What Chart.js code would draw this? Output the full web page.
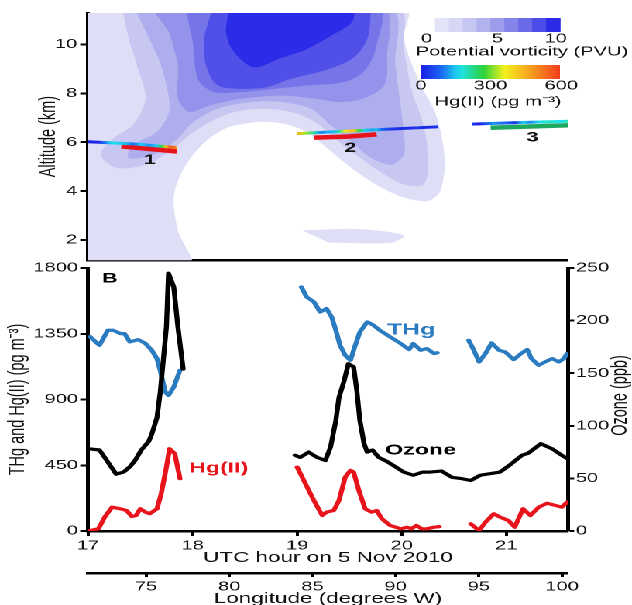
<!DOCTYPE html>
<html>
<head>
<meta charset="utf-8">
<script src="https://cdn.jsdelivr.net/npm/chart.js@4.4.0/dist/chart.umd.min.js"></script>
<style>
  html, body { margin: 0; padding: 0; background: #fff; }
  #clip { position: relative; width: 632px; height: 605px; overflow: hidden; }
  /* the reference figure is stretched horizontally, so draw narrow and stretch */
  #wrap { position: absolute; left: 0; top: 0; width: 408px; height: 605px; transform: scaleX(1.549); transform-origin: 0 0; }
  #topBox { position: absolute; left: 0; top: 0; width: 408px; height: 270px; }
  #botBox { position: absolute; left: 0; top: 255px; width: 408px; height: 360px; }
</style>
</head>
<body>
<div id="clip"><div id="wrap">
  <div id="topBox"><canvas id="pvChart"></canvas></div>
  <div id="botBox"><canvas id="tsChart"></canvas></div>
</div></div>
<script>
// ---- axis ticks ----
const hourTicks = [17, 18, 19, 20, 21];
const lonTicks = [75, 80, 85, 90, 95, 100];
const mercuryTicks = [0, 450, 900, 1350, 1800];
const ozoneTicks = [0, 50, 100, 150, 200, 250];
const altTicks = [2, 4, 6, 8, 10];

// ---- panel B series: [UTC hour, value] ----
const thg1 = [[17.02,1330],[17.11,1271],[17.19,1374],[17.24,1374],[17.31,1351],[17.35,1351],[17.40,1294],[17.48,1310],[17.55,1283],[17.61,1237],[17.66,1180],[17.69,1100],[17.74,951],[17.77,928],[17.82,985],[17.88,1100]];
const thg2 = [[19.04,1670],[19.09,1602],[19.16,1568],[19.22,1499],[19.28,1522],[19.33,1465],[19.37,1374],[19.41,1271],[19.46,1202],[19.51,1168],[19.55,1259],[19.60,1362],[19.67,1431],[19.73,1408],[19.79,1374],[19.89,1328],[19.99,1283],[20.07,1242],[20.11,1283],[20.18,1237],[20.24,1248],[20.31,1214],[20.34,1220]];
const thg3 = [[20.64,1305],[20.69,1237],[20.74,1157],[20.80,1214],[20.86,1287],[20.93,1237],[20.99,1225],[21.07,1173],[21.14,1214],[21.20,1242],[21.24,1180],[21.31,1134],[21.37,1157],[21.44,1180],[21.50,1157],[21.55,1180],[21.58,1214]];

const hg1 = [[17.0,0],[17.10,15],[17.16,95],[17.23,163],[17.31,152],[17.37,140],[17.42,99],[17.46,106],[17.50,152],[17.55,129],[17.59,118],[17.66,152],[17.70,255],[17.75,437],[17.78,563],[17.83,529],[17.88,358]];
const hg2 = [[19.0,437],[19.08,323],[19.16,209],[19.24,106],[19.28,129],[19.35,140],[19.40,209],[19.46,369],[19.51,415],[19.54,403],[19.59,278],[19.65,152],[19.71,129],[19.76,140],[19.81,84],[19.89,38],[19.99,15],[20.05,26],[20.09,15],[20.14,38],[20.19,15],[20.24,15],[20.31,26],[20.36,30]];
const hg3 = [[20.66,49],[20.74,3],[20.80,60],[20.88,118],[20.94,95],[21.02,72],[21.08,26],[21.16,152],[21.23,106],[21.31,163],[21.39,190],[21.47,175],[21.53,163],[21.58,197]];

const ozone1 = [[17.02,78],[17.11,77],[17.18,67],[17.27,54],[17.34,56],[17.40,61],[17.45,67],[17.51,77],[17.58,85],[17.61,92],[17.66,108],[17.69,131],[17.72,162],[17.75,194],[17.77,245],[17.82,232],[17.86,194],[17.91,154]];
const ozone2 = [[18.98,72],[19.03,70],[19.11,75],[19.19,70],[19.27,67],[19.32,80],[19.37,105],[19.40,127],[19.45,143],[19.49,159],[19.54,156],[19.57,134],[19.60,105],[19.64,83],[19.67,75],[19.72,77],[19.78,70],[19.86,66],[19.94,61],[20.02,56],[20.11,53],[20.20,56],[20.27,56],[20.38,57],[20.48,51],[20.56,50],[20.66,48],[20.75,53],[20.94,56],[21.05,64],[21.15,72],[21.21,74],[21.33,83],[21.44,78],[21.53,72],[21.58,69]];

// ---- panel A: flight legs [hour, altitude km] ----
const track1 = [[17.0,6.02],[17.45,5.93],[17.85,5.78]];
const track2 = [[19.0,6.35],[19.7,6.5],[20.35,6.63]];
const track3 = [[20.67,6.74],[21.1,6.8],[21.6,6.86]];
const hgBar1 = [[17.32,5.83],[17.85,5.62]];
const hgBar2 = [[19.16,6.19],[19.48,6.23],[19.76,6.32]];
const hgBar3 = [[20.85,6.59],[21.63,6.70]];

// ---- panel A: potential vorticity contour bands [hour, altitude km] ----
const pvBand1 = [[16.9,11.6],[20.02,11.6],[20.02,10.2],[20.17,8.45],[20.33,7.10],[20.41,5.35],[20.37,4.01],[20.25,3.60],[20.02,3.74],[19.75,4.28],[19.48,5.08],[19.25,5.89],[19.09,6.43],[18.86,6.77],[18.63,6.83],[18.32,6.57],[18.09,5.89],[17.90,4.81],[17.82,3.74],[17.86,2.39],[17.97,0.9],[16.9,0.9]];
const pvBand1b = [[19.05,2.4],[19.6,2.45],[20.02,2.2],[19.9,1.9],[19.3,1.9]];
const pvBand2 = [[17.32,11.6],[19.94,11.6],[20.02,9.8],[20.10,8.05],[20.21,6.70],[20.25,5.35],[20.21,4.28],[20.02,4.28],[19.79,4.81],[19.56,5.49],[19.36,6.16],[19.17,6.83],[18.94,7.24],[18.67,7.37],[18.40,7.24],[18.17,6.83],[17.97,6.30],[17.78,5.62],[17.55,5.08],[17.28,4.95],[17.12,5.49],[17.24,6.16],[17.43,6.70],[17.55,7.78],[17.47,9.12],[17.39,10.2]];
const pvBand3 = [[17.43,11.6],[19.86,11.6],[19.94,9.12],[19.98,7.78],[20.02,6.43],[20.02,5.49],[19.90,5.08],[19.71,5.35],[19.52,6.03],[19.32,6.70],[19.13,7.37],[18.86,7.64],[18.55,7.64],[18.24,7.37],[18.01,6.83],[17.86,6.16],[17.63,5.49],[17.39,5.35],[17.43,5.89],[17.66,6.43],[17.78,7.37],[17.70,9.12],[17.59,10.2]];
const pvBand4 = [[17.59,11.6],[19.79,11.6],[19.86,9.39],[19.83,8.32],[19.63,7.78],[19.40,7.64],[19.17,7.78],[18.86,7.91],[18.47,7.78],[18.17,7.51],[17.97,7.24],[17.86,7.78],[17.86,9.12],[17.78,10.47]];
const pvBand5 = [[17.93,11.6],[19.75,11.6],[19.75,9.8],[19.63,8.86],[19.44,8.45],[19.09,8.32],[18.78,8.18],[18.47,8.05],[18.20,8.05],[18.05,8.59],[18.01,9.93]];
const pvBand6 = [[18.20,11.6],[18.11,10.2],[18.13,9.12],[18.24,8.32],[18.47,8.18],[18.71,8.25],[18.94,8.59],[19.25,8.92],[19.52,9.39],[19.67,10.2],[19.71,11.6]];
const pvBand7 = [[18.36,11.6],[18.32,10.47],[18.40,9.66],[18.59,9.06],[18.86,9.46],[19.09,9.80],[19.32,10.34],[19.52,10.88],[19.56,11.6]];

const pvColors = ['#dedef6', '#c7c7f2', '#aeaeee', '#9393eb', '#7575e9', '#5050e8', '#2c2ce8'];
const pvLegendColors = ['#ffffff', '#e4e4f8', '#d6d6f5', '#c6c6f2', '#b2b2ef', '#9c9cec', '#8484ea', '#6a6ae9', '#4c4ce8', '#2c2ce8'];
const jetStops = [[0,[28,28,230]],[0.15,[26,108,242]],[0.28,[30,230,240]],[0.45,[46,209,58]],[0.6,[242,242,30]],[0.78,[247,162,30]],[1,[240,60,30]]];

const AX_LEFT = 56.8, AX_RIGHT = 41.3;
const FONT = "'Liberation Sans', Arial, Helvetica, sans-serif";
Chart.defaults.font.family = FONT;
Chart.defaults.color = '#000';

const pts = arr => arr.map(([x, y]) => ({x, y}));
function joinSegs(segs) {
    const out = [];
    segs.forEach((s, i) => {
        if (i) out.push({x: (segs[i - 1][segs[i - 1].length - 1][0] + s[0][0]) / 2, y: null});
        out.push(...pts(s));
    });
    return out;
}
function jet(t) {
    t = Math.max(0, Math.min(1, t));
    for (let i = 1; i < jetStops.length; i++) {
        const [t0, c0] = jetStops[i - 1], [t1, c1] = jetStops[i];
        if (t <= t1) {
            const f = (t - t0) / (t1 - t0);
            return 'rgb(' + c0.map((c, k) => Math.round(c + (c1[k] - c) * f)).join(',') + ')';
        }
    }
}
// colour the flight track by Hg(II) at the same UTC hour
function trackGradient(chart) {
    const {ctx, chartArea, scales} = chart;
    if (!chartArea) return '#1c1ce6';
    const g = ctx.createLinearGradient(chartArea.left, 0, chartArea.right, 0);
    const w = chartArea.right - chartArea.left;
    [...hg1, ...hg2, ...hg3].forEach(([h, v]) => {
        const off = (scales.x.getPixelForValue(h) - chartArea.left) / w;
        if (off >= 0 && off <= 1) g.addColorStop(off, jet(v / 600));
    });
    return g;
}
const fixedTicks = list => scale => { scale.ticks = list.map(v => ({value: v})); };
const plainLabel = v => String(v);

// ---------- panel A ----------
const pvShapes = [[pvBand1, 0], [pvBand1b, 0], [pvBand2, 1], [pvBand3, 2], [pvBand4, 3], [pvBand5, 4], [pvBand6, 5], [pvBand7, 6]];

const pvLegendPlugin = {
    id: 'pvLegend',
    afterDraw(chart) {
        const {ctx, scales: {x, y}} = chart;
        ctx.save();
        // flight leg numbers
        ctx.font = 'bold 14px ' + FONT;
        ctx.fillStyle = '#111';
        ctx.textAlign = 'center';
        ctx.textBaseline = 'middle';
        [['1', 17.59, 5.26], ['2', 19.51, 5.76], ['3', 21.25, 6.19]].forEach(([t, h, a]) => {
            ctx.fillText(t, x.getPixelForValue(h), y.getPixelForValue(a));
        });
        // colour bars
        const L = 271.8, W = 89.7;
        const bw = W / pvLegendColors.length;
        pvLegendColors.forEach((c, i) => {
            ctx.fillStyle = c;
            ctx.fillRect(L + i * bw, 18, bw + 0.4, 14);
        });
        const g = ctx.createLinearGradient(L, 0, L + W, 0);
        for (let i = 0; i <= 20; i++) g.addColorStop(i / 20, jet(i / 20));
        ctx.fillStyle = g;
        ctx.fillRect(L, 65, W, 14);
        ctx.fillStyle = '#111';
        ctx.font = '13px ' + FONT;
        [['0', 0.04], ['5', 0.55], ['10', 0.97]].forEach(([t, f]) => ctx.fillText(t, L + f * W, 39));
        ctx.fillText('Potential vorticity (PVU)', 337, 52);
        [['0', 0], ['300', 0.5], ['600', 1.01]].forEach(([t, f]) => ctx.fillText(t, L + f * W, 86));
        ctx.fillText('Hg(II) (pg m\u207B\u00B3)', 321.5, 102);
        ctx.restore();
    }
};

new Chart(document.getElementById('pvChart'), {
    type: 'line',
    data: {
        datasets: [
            ...pvShapes.map(([poly, lvl], i) => ({
                data: pts(poly),
                backgroundColor: pvColors[lvl],
                borderColor: 'rgba(0,0,0,0)',
                borderWidth: 1,
                pointRadius: 0,
                fill: 'shape',
                tension: 0.3,
                order: 30 - i
            })),
            { data: pts(hgBar1), borderColor: '#e8141c', borderWidth: 4.5, pointRadius: 0, fill: false, order: 3 },
            { data: pts(hgBar2), borderColor: '#e8141c', borderWidth: 4.5, pointRadius: 0, fill: false, order: 3 },
            { data: pts(hgBar3), borderColor: '#1fa860', borderWidth: 4.5, pointRadius: 0, fill: false, order: 3 },
            { data: joinSegs([track1, track2, track3]), borderColor: c => trackGradient(c.chart), borderWidth: 3, pointRadius: 0, fill: false, order: 1 }
        ]
    },
    options: {
        responsive: true,
        maintainAspectRatio: false,
        devicePixelRatio: 2,
        animation: false,
        layout: { padding: { top: 13, left: 0, right: AX_RIGHT, bottom: 0 } },
        plugins: { legend: { display: false }, tooltip: { enabled: false } },
        scales: {
            x: {
                type: 'linear', min: 17, max: 21.59,
                ticks: { display: false },
                grid: { drawOnChartArea: false, drawTicks: false },
                border: { color: '#000', width: 2.5 },
                afterFit: s => { s.height = 7; }
            },
            y: {
                type: 'linear', min: 1.18, max: 11.28,
                afterBuildTicks: fixedTicks(altTicks),
                ticks: { font: { size: 13 }, padding: 2, color: '#111', callback: plainLabel },
                grid: { drawOnChartArea: false, tickLength: 5, tickWidth: 2, tickColor: '#000' },
                border: { color: '#000', width: 2.5 },
                title: { display: true, text: 'Altitude (km)', font: { size: 14.5 }, color: '#111', padding: { top: 23, bottom: 0 } },
                afterFit: s => { s.width = AX_LEFT; }
            }
        }
    },
    plugins: [pvLegendPlugin]
});

// ---------- panel B ----------
const seriesLabelsPlugin = {
    id: 'seriesLabels',
    afterDraw(chart) {
        const {ctx, chartArea, scales: {x, y}} = chart;
        ctx.save();
        ctx.textAlign = 'center';
        ctx.textBaseline = 'middle';
        [['THg', 20.09, 1374, '#2b7bc0', 16], ['Ozone', 20.18, 552, '#000', 15], ['Hg(II)', 18.25, 430, '#e8141c', 15], ['B', 17.21, 1728, '#000', 14]]
            .forEach(([t, h, v, c, size]) => {
                ctx.font = 'bold ' + size + 'px ' + FONT;
                ctx.fillStyle = c;
                ctx.fillText(t, x.getPixelForValue(h), y.getPixelForValue(v));
            });
        // right axis title reads bottom-to-top like the left one
        ctx.translate(400.5, (chartArea.top + chartArea.bottom) / 2 - 4);
        ctx.rotate(-Math.PI / 2);
        ctx.font = '14.5px ' + FONT;
        ctx.fillStyle = '#111';
        ctx.fillText('Ozone (ppb)', 0, 0);
        ctx.restore();
    }
};

const lineDs = (data, color, axis, order) => ({
    data, borderColor: color, borderWidth: 3.2, pointRadius: 0, fill: false, tension: 0,
    borderJoinStyle: 'round', borderCapStyle: 'round', yAxisID: axis, order
});

new Chart(document.getElementById('tsChart'), {
    type: 'line',
    data: {
        datasets: [
            lineDs(joinSegs([ozone1, ozone2]), '#000', 'y1', 0),
            lineDs(joinSegs([thg1, thg2, thg3]), '#2b7bc0', 'y', 1),
            lineDs(joinSegs([hg1, hg2, hg3]), '#e8141c', 'y', 2)
        ]
    },
    options: {
        responsive: true,
        maintainAspectRatio: false,
        devicePixelRatio: 2,
        animation: false,
        layout: { padding: { top: 13, left: 0, right: 0, bottom: 7 } },
        plugins: { legend: { display: false }, tooltip: { enabled: false } },
        scales: {
            x: {
                type: 'linear', position: 'bottom', weight: 0, min: 17, max: 21.59,
                afterBuildTicks: fixedTicks(hourTicks),
                ticks: { font: { size: 13 }, padding: 2, color: '#111', maxRotation: 0, callback: plainLabel },
                grid: { drawOnChartArea: false, tickLength: 5, tickWidth: 2, tickColor: '#000' },
                border: { color: '#000', width: 2.5 },
                title: { display: true, text: 'UTC hour on 5 Nov 2010', font: { size: 14.5 }, color: '#111', padding: { top: 0, bottom: 6.3 } },
                afterFit: s => { s.height = 42; }
            },
            x2: {
                type: 'linear', position: 'bottom', weight: 1, min: 71.51, max: 100.36, display: true,
                afterBuildTicks: fixedTicks(lonTicks),
                ticks: { font: { size: 13 }, padding: 2.2, color: '#111', maxRotation: 0, callback: plainLabel },
                grid: { drawOnChartArea: false, tickLength: 4, tickWidth: 2, tickColor: '#000' },
                border: { color: '#000', width: 2.5 },
                title: { display: true, text: 'Longitude (degrees W)', font: { size: 14.5 }, color: '#111', padding: { top: 0, bottom: 0.3 } },
                afterFit: s => { s.height = 35; }
            },
            y: {
                type: 'linear', position: 'left', min: 0, max: 1800,
                afterBuildTicks: fixedTicks(mercuryTicks),
                ticks: { font: { size: 13 }, padding: 1.4, color: '#111', callback: plainLabel },
                grid: { drawOnChartArea: false, tickLength: 5, tickWidth: 2, tickColor: '#000' },
                border: { color: '#000', width: 2.5 },
                title: { display: true, text: 'THg and Hg(II) (pg m\u207B\u00B3)', font: { size: 14.5 }, color: '#111', padding: { top: 2.9, bottom: 0 } },
                afterFit: s => { s.width = AX_LEFT; }
            },
            y1: {
                type: 'linear', position: 'right', min: 0, max: 250,
                afterBuildTicks: fixedTicks(ozoneTicks),
                ticks: { font: { size: 13 }, padding: 1, color: '#111', callback: plainLabel },
                grid: { drawOnChartArea: false, tickLength: 4, tickWidth: 2, tickColor: '#000' },
                border: { color: '#000', width: 2.5 },
                afterFit: s => { s.width = AX_RIGHT; }
            }
        }
    },
    plugins: [seriesLabelsPlugin]
});
</script>
</body>
</html>
